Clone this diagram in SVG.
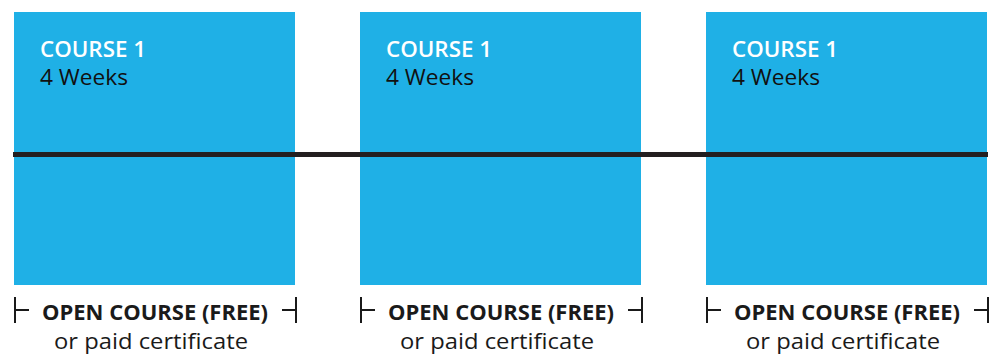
<svg xmlns="http://www.w3.org/2000/svg" width="996" height="355" viewBox="0 0 996 355">
  <style>
    .box { fill: #1fb0e6; }
    .title { font-family: "Open Sans", "Noto Sans", sans-serif; font-weight: 600; font-size: 22px; fill: #ffffff; }
    .dur { font-family: "Open Sans", "Noto Sans", sans-serif; font-size: 22px; fill: #111111; }
    .open { font-family: "Open Sans", "Noto Sans", sans-serif; font-weight: 700; font-size: 22px; fill: #1a1a1a; text-anchor: middle; }
    .paid { font-family: "Open Sans", "Noto Sans", sans-serif; font-size: 22px; fill: #1a1a1a; text-anchor: middle; }
    .brk { stroke: #1a1a1a; stroke-width: 2; fill: none; }
    .timeline { stroke: #231f20; stroke-width: 5; }
  </style>
  <rect width="996" height="355" fill="#ffffff"/>

  <g id="course-a">
    <rect class="box" x="14" y="12" width="281" height="273"/>
    <text class="title" x="40" y="57" textLength="106" lengthAdjust="spacingAndGlyphs">COURSE 1</text>
    <text class="dur" x="40" y="85" textLength="88" lengthAdjust="spacingAndGlyphs">4 Weeks</text>
    <path class="brk" d="M15 297 V323 M15 310 H29 M296 297 V323 M282 310 H296"/>
    <text class="open" x="155" y="320" textLength="226" lengthAdjust="spacingAndGlyphs">OPEN COURSE (FREE)</text>
    <text class="paid" x="151" y="349" textLength="194" lengthAdjust="spacingAndGlyphs">or paid certificate</text>
  </g>

  <g id="course-b">
    <rect class="box" x="360" y="12" width="281" height="273"/>
    <text class="title" x="386" y="57" textLength="106" lengthAdjust="spacingAndGlyphs">COURSE 1</text>
    <text class="dur" x="386" y="85" textLength="88" lengthAdjust="spacingAndGlyphs">4 Weeks</text>
    <path class="brk" d="M361 297 V323 M361 310 H375 M642 297 V323 M628 310 H642"/>
    <text class="open" x="501" y="320" textLength="226" lengthAdjust="spacingAndGlyphs">OPEN COURSE (FREE)</text>
    <text class="paid" x="497" y="349" textLength="194" lengthAdjust="spacingAndGlyphs">or paid certificate</text>
  </g>

  <g id="course-c">
    <rect class="box" x="706" y="12" width="281" height="273"/>
    <text class="title" x="732" y="57" textLength="106" lengthAdjust="spacingAndGlyphs">COURSE 1</text>
    <text class="dur" x="732" y="85" textLength="88" lengthAdjust="spacingAndGlyphs">4 Weeks</text>
    <path class="brk" d="M707 297 V323 M707 310 H721 M988 297 V323 M974 310 H988"/>
    <text class="open" x="847" y="320" textLength="226" lengthAdjust="spacingAndGlyphs">OPEN COURSE (FREE)</text>
    <text class="paid" x="843" y="349" textLength="194" lengthAdjust="spacingAndGlyphs">or paid certificate</text>
  </g>

  <g id="connectors">
    <line class="timeline" x1="13" y1="154.5" x2="988" y2="154.5"/>
  </g>
</svg>
